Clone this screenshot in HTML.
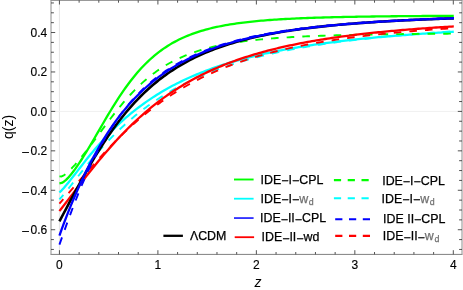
<!DOCTYPE html>
<html><head><meta charset="utf-8"><title>q(z)</title>
<style>
html,body{margin:0;padding:0;background:#fff;}
body{width:463px;height:290px;position:relative;overflow:hidden;font-family:"Liberation Sans",sans-serif;}
.t{position:absolute;-webkit-text-stroke:0.15px currentColor;font-size:12px;line-height:14px;height:14px;white-space:nowrap;color:#000;}
.r{text-align:right;}
.l{font-size:12.4px;-webkit-text-stroke:0.25px currentColor;}
.a{-webkit-text-stroke:0;}
.g{color:#707070;}
.t i{font-style:normal;position:relative;top:1.4px;}
.t b{font-weight:normal;position:relative;top:1px;left:-1.8px;}
sub{font-size:8.8px;vertical-align:baseline;position:relative;top:2.1px;line-height:0;margin-left:0.6px;}
#w{position:absolute;left:0;top:0;width:463px;height:290px;will-change:transform;}
</style></head><body><div id="w">
<svg width="463" height="290" viewBox="0 0 463 290" style="position:absolute;left:0;top:0">
<line x1="59.43" y1="0.3" x2="59.43" y2="254.4" stroke="#e6e6e6" stroke-width="1"/>
<line x1="51.0" y1="111.4" x2="462.0" y2="111.4" stroke="#f0f0f0" stroke-width="1"/>
<clipPath id="c"><rect x="51.0" y="0.3" width="411.0" height="254.1"/></clipPath>
<g clip-path="url(#c)" fill="none" stroke-linejoin="round">
<path d="M59.43 192.52 L61.65 190.33 L63.86 187.92 L66.08 185.35 L68.29 182.67 L70.51 179.90 L72.72 177.08 L74.94 174.23 L77.15 171.37 L79.37 168.51 L81.59 165.67 L83.80 162.85 L86.02 160.06 L88.23 157.30 L90.45 154.59 L92.66 151.92 L94.88 149.29 L97.09 146.72 L99.31 144.19 L101.53 141.71 L103.74 139.28 L105.96 136.90 L108.17 134.58 L110.39 132.30 L112.60 130.07 L114.82 127.90 L117.03 125.77 L119.25 123.69 L121.47 121.65 L123.68 119.66 L125.90 117.72 L128.11 115.82 L130.33 113.97 L132.54 112.16 L134.76 110.39 L136.98 108.66 L139.19 106.97 L141.41 105.32 L143.62 103.71 L145.84 102.14 L148.05 100.60 L150.27 99.10 L152.48 97.63 L154.70 96.20 L156.92 94.80 L159.13 93.43 L161.35 92.10 L163.56 90.79 L165.78 89.52 L167.99 88.27 L170.21 87.05 L172.42 85.86 L174.64 84.70 L176.86 83.56 L179.07 82.45 L181.29 81.36 L183.50 80.30 L185.72 79.26 L187.93 78.24 L190.15 77.25 L192.36 76.28 L194.58 75.33 L196.80 74.40 L199.01 73.49 L201.23 72.60 L203.44 71.73 L205.66 70.88 L207.87 70.05 L210.09 69.23 L212.30 68.43 L214.52 67.65 L216.74 66.89 L218.95 66.14 L221.17 65.40 L223.38 64.69 L225.60 63.98 L227.81 63.29 L230.03 62.62 L232.24 61.96 L234.46 61.31 L236.68 60.68 L238.89 60.06 L241.11 59.45 L243.32 58.85 L245.54 58.27 L247.75 57.69 L249.97 57.13 L252.19 56.58 L254.40 56.04 L256.62 55.51 L258.83 54.99 L261.05 54.48 L263.26 53.98 L265.48 53.49 L267.69 53.01 L269.91 52.54 L272.13 52.07 L274.34 51.62 L276.56 51.17 L278.77 50.74 L280.99 50.31 L283.20 49.89 L285.42 49.47 L287.63 49.07 L289.85 48.67 L292.07 48.27 L294.28 47.89 L296.50 47.51 L298.71 47.14 L300.93 46.78 L303.14 46.42 L305.36 46.07 L307.57 45.72 L309.79 45.38 L312.01 45.05 L314.22 44.72 L316.44 44.40 L318.65 44.08 L320.87 43.77 L323.08 43.46 L325.30 43.16 L327.51 42.86 L329.73 42.57 L331.95 42.28 L334.16 42.00 L336.38 41.73 L338.59 41.45 L340.81 41.18 L343.02 40.92 L345.24 40.66 L347.45 40.41 L349.67 40.15 L351.89 39.91 L354.10 39.66 L356.32 39.42 L358.53 39.19 L360.75 38.96 L362.96 38.73 L365.18 38.50 L367.39 38.28 L369.61 38.06 L371.83 37.85 L374.04 37.64 L376.26 37.43 L378.47 37.22 L380.69 37.02 L382.90 36.82 L385.12 36.63 L387.34 36.43 L389.55 36.24 L391.77 36.06 L393.98 35.87 L396.20 35.69 L398.41 35.51 L400.63 35.33 L402.84 35.16 L405.06 34.99 L407.28 34.82 L409.49 34.65 L411.71 34.49 L413.92 34.33 L416.14 34.17 L418.35 34.01 L420.57 33.85 L422.78 33.70 L425.00 33.55 L427.22 33.40 L429.43 33.25 L431.65 33.11 L433.86 32.97 L436.08 32.82 L438.29 32.69 L440.51 32.55 L442.72 32.41 L444.94 32.28 L447.16 32.15 L449.37 32.02 L451.59 31.89 L453.80 31.76" stroke="#00ffff" stroke-width="2.3"/>
<path d="M59.43 199.36 L61.65 196.88 L63.86 194.28 L66.08 191.58 L68.29 188.83 L70.51 186.03 L72.72 183.21 L74.94 180.37 L77.15 177.54 L79.37 174.72 L81.59 171.91 L83.80 169.13 L86.02 166.37 L88.23 163.65 L90.45 160.96 L92.66 158.31 L94.88 155.70 L97.09 153.13 L99.31 150.60 L101.53 148.12 L103.74 145.68 L105.96 143.28 L108.17 140.93 L110.39 138.62 L112.60 136.36 L114.82 134.14 L117.03 131.97 L119.25 129.83 L121.47 127.75 L123.68 125.70 L125.90 123.70 L128.11 121.73 L130.33 119.81 L132.54 117.93 L134.76 116.09 L136.98 114.29 L139.19 112.52 L141.41 110.80 L143.62 109.11 L145.84 107.45 L148.05 105.83 L150.27 104.25 L152.48 102.70 L154.70 101.19 L156.92 99.70 L159.13 98.25 L161.35 96.83 L163.56 95.45 L165.78 94.09 L167.99 92.76 L170.21 91.46 L172.42 90.18 L174.64 88.94 L176.86 87.72 L179.07 86.53 L181.29 85.36 L183.50 84.22 L185.72 83.10 L187.93 82.01 L190.15 80.94 L192.36 79.89 L194.58 78.86 L196.80 77.86 L199.01 76.88 L201.23 75.91 L203.44 74.97 L205.66 74.05 L207.87 73.15 L210.09 72.26 L212.30 71.40 L214.52 70.55 L216.74 69.72 L218.95 68.90 L221.17 68.10 L223.38 67.32 L225.60 66.56 L227.81 65.81 L230.03 65.07 L232.24 64.35 L234.46 63.65 L236.68 62.96 L238.89 62.28 L241.11 61.61 L243.32 60.96 L245.54 60.32 L247.75 59.70 L249.97 59.08 L252.19 58.48 L254.40 57.89 L256.62 57.31 L258.83 56.74 L261.05 56.19 L263.26 55.64 L265.48 55.10 L267.69 54.58 L269.91 54.06 L272.13 53.55 L274.34 53.06 L276.56 52.57 L278.77 52.09 L280.99 51.62 L283.20 51.16 L285.42 50.70 L287.63 50.26 L289.85 49.82 L292.07 49.39 L294.28 48.97 L296.50 48.56 L298.71 48.15 L300.93 47.75 L303.14 47.36 L305.36 46.97 L307.57 46.59 L309.79 46.22 L312.01 45.85 L314.22 45.49 L316.44 45.14 L318.65 44.79 L320.87 44.45 L323.08 44.12 L325.30 43.79 L327.51 43.46 L329.73 43.14 L331.95 42.83 L334.16 42.52 L336.38 42.22 L338.59 41.92 L340.81 41.62 L343.02 41.33 L345.24 41.05 L347.45 40.77 L349.67 40.49 L351.89 40.22 L354.10 39.96 L356.32 39.70 L358.53 39.44 L360.75 39.18 L362.96 38.93 L365.18 38.69 L367.39 38.44 L369.61 38.21 L371.83 37.97 L374.04 37.74 L376.26 37.51 L378.47 37.29 L380.69 37.07 L382.90 36.85 L385.12 36.64 L387.34 36.42 L389.55 36.22 L391.77 36.01 L393.98 35.81 L396.20 35.61 L398.41 35.42 L400.63 35.22 L402.84 35.03 L405.06 34.85 L407.28 34.66 L409.49 34.48 L411.71 34.30 L413.92 34.12 L416.14 33.95 L418.35 33.78 L420.57 33.61 L422.78 33.44 L425.00 33.27 L427.22 33.11 L429.43 32.95 L431.65 32.79 L433.86 32.64 L436.08 32.48 L438.29 32.33 L440.51 32.18 L442.72 32.04 L444.94 31.89 L447.16 31.75 L449.37 31.61 L451.59 31.47 L453.80 31.33" stroke="#00ffff" stroke-width="1.9" stroke-dasharray="7.6 8.06" stroke-dashoffset="1.6"/>
<path d="M59.43 183.30 L61.65 182.95 L63.86 181.72 L66.08 179.89 L68.29 177.65 L70.51 175.09 L72.72 172.30 L74.94 169.32 L77.15 166.17 L79.37 162.89 L81.59 159.50 L83.80 156.00 L86.02 152.41 L88.23 148.75 L90.45 145.04 L92.66 141.27 L94.88 137.47 L97.09 133.66 L99.31 129.83 L101.53 126.01 L103.74 122.21 L105.96 118.44 L108.17 114.71 L110.39 111.03 L112.60 107.40 L114.82 103.84 L117.03 100.36 L119.25 96.96 L121.47 93.64 L123.68 90.41 L125.90 87.27 L128.11 84.23 L130.33 81.29 L132.54 78.45 L134.76 75.71 L136.98 73.06 L139.19 70.52 L141.41 68.08 L143.62 65.74 L145.84 63.49 L148.05 61.33 L150.27 59.27 L152.48 57.30 L154.70 55.41 L156.92 53.61 L159.13 51.88 L161.35 50.24 L163.56 48.67 L165.78 47.18 L167.99 45.75 L170.21 44.39 L172.42 43.10 L174.64 41.87 L176.86 40.69 L179.07 39.57 L181.29 38.51 L183.50 37.50 L185.72 36.53 L187.93 35.61 L190.15 34.73 L192.36 33.90 L194.58 33.11 L196.80 32.35 L199.01 31.63 L201.23 30.94 L203.44 30.29 L205.66 29.67 L207.87 29.08 L210.09 28.51 L212.30 27.97 L214.52 27.46 L216.74 26.97 L218.95 26.50 L221.17 26.06 L223.38 25.63 L225.60 25.23 L227.81 24.84 L230.03 24.47 L232.24 24.12 L234.46 23.78 L236.68 23.46 L238.89 23.15 L241.11 22.85 L243.32 22.57 L245.54 22.30 L247.75 22.05 L249.97 21.80 L252.19 21.57 L254.40 21.34 L256.62 21.12 L258.83 20.92 L261.05 20.72 L263.26 20.53 L265.48 20.35 L267.69 20.17 L269.91 20.01 L272.13 19.85 L274.34 19.69 L276.56 19.55 L278.77 19.40 L280.99 19.27 L283.20 19.14 L285.42 19.01 L287.63 18.89 L289.85 18.78 L292.07 18.67 L294.28 18.56 L296.50 18.46 L298.71 18.36 L300.93 18.26 L303.14 18.17 L305.36 18.08 L307.57 18.00 L309.79 17.92 L312.01 17.84 L314.22 17.76 L316.44 17.69 L318.65 17.62 L320.87 17.55 L323.08 17.49 L325.30 17.43 L327.51 17.37 L329.73 17.31 L331.95 17.25 L334.16 17.20 L336.38 17.14 L338.59 17.09 L340.81 17.04 L343.02 17.00 L345.24 16.95 L347.45 16.91 L349.67 16.86 L351.89 16.82 L354.10 16.78 L356.32 16.75 L358.53 16.71 L360.75 16.67 L362.96 16.64 L365.18 16.60 L367.39 16.57 L369.61 16.54 L371.83 16.51 L374.04 16.48 L376.26 16.45 L378.47 16.42 L380.69 16.40 L382.90 16.37 L385.12 16.35 L387.34 16.32 L389.55 16.30 L391.77 16.27 L393.98 16.25 L396.20 16.23 L398.41 16.21 L400.63 16.19 L402.84 16.17 L405.06 16.15 L407.28 16.13 L409.49 16.11 L411.71 16.10 L413.92 16.08 L416.14 16.06 L418.35 16.05 L420.57 16.03 L422.78 16.02 L425.00 16.00 L427.22 15.99 L429.43 15.98 L431.65 15.96 L433.86 15.95 L436.08 15.94 L438.29 15.92 L440.51 15.91 L442.72 15.90 L444.94 15.89 L447.16 15.88 L449.37 15.87 L451.59 15.86 L453.80 15.85" stroke="#00ff00" stroke-width="2.3"/>
<path d="M59.43 176.41 L61.65 176.44 L63.86 175.36 L66.08 173.71 L68.29 171.73 L70.51 169.54 L72.72 167.21 L74.94 164.77 L77.15 162.23 L79.37 159.61 L81.59 156.91 L83.80 154.14 L86.02 151.31 L88.23 148.44 L90.45 145.52 L92.66 142.57 L94.88 139.60 L97.09 136.61 L99.31 133.61 L101.53 130.61 L103.74 127.62 L105.96 124.65 L108.17 121.70 L110.39 118.78 L112.60 115.90 L114.82 113.06 L117.03 110.26 L119.25 107.52 L121.47 104.84 L123.68 102.22 L125.90 99.66 L128.11 97.16 L130.33 94.74 L132.54 92.38 L134.76 90.09 L136.98 87.88 L139.19 85.73 L141.41 83.66 L143.62 81.66 L145.84 79.72 L148.05 77.86 L150.27 76.07 L152.48 74.34 L154.70 72.68 L156.92 71.09 L159.13 69.55 L161.35 68.08 L163.56 66.67 L165.78 65.31 L167.99 64.02 L170.21 62.77 L172.42 61.58 L174.64 60.43 L176.86 59.34 L179.07 58.29 L181.29 57.29 L183.50 56.32 L185.72 55.40 L187.93 54.52 L190.15 53.68 L192.36 52.87 L194.58 52.10 L196.80 51.36 L199.01 50.66 L201.23 49.98 L203.44 49.33 L205.66 48.71 L207.87 48.12 L210.09 47.55 L212.30 47.00 L214.52 46.48 L216.74 45.98 L218.95 45.51 L221.17 45.05 L223.38 44.61 L225.60 44.19 L227.81 43.79 L230.03 43.40 L232.24 43.03 L234.46 42.67 L236.68 42.33 L238.89 42.01 L241.11 41.69 L243.32 41.39 L245.54 41.10 L247.75 40.83 L249.97 40.56 L252.19 40.31 L254.40 40.06 L256.62 39.82 L258.83 39.60 L261.05 39.38 L263.26 39.17 L265.48 38.97 L267.69 38.78 L269.91 38.59 L272.13 38.41 L274.34 38.24 L276.56 38.07 L278.77 37.91 L280.99 37.76 L283.20 37.61 L285.42 37.47 L287.63 37.33 L289.85 37.20 L292.07 37.07 L294.28 36.95 L296.50 36.83 L298.71 36.72 L300.93 36.61 L303.14 36.50 L305.36 36.40 L307.57 36.30 L309.79 36.20 L312.01 36.11 L314.22 36.02 L316.44 35.93 L318.65 35.85 L320.87 35.77 L323.08 35.69 L325.30 35.62 L327.51 35.55 L329.73 35.48 L331.95 35.41 L334.16 35.34 L336.38 35.28 L338.59 35.22 L340.81 35.16 L343.02 35.10 L345.24 35.04 L347.45 34.99 L349.67 34.94 L351.89 34.89 L354.10 34.84 L356.32 34.79 L358.53 34.74 L360.75 34.70 L362.96 34.66 L365.18 34.61 L367.39 34.57 L369.61 34.53 L371.83 34.50 L374.04 34.46 L376.26 34.42 L378.47 34.39 L380.69 34.35 L382.90 34.32 L385.12 34.29 L387.34 34.26 L389.55 34.23 L391.77 34.20 L393.98 34.17 L396.20 34.14 L398.41 34.12 L400.63 34.09 L402.84 34.06 L405.06 34.04 L407.28 34.02 L409.49 33.99 L411.71 33.97 L413.92 33.95 L416.14 33.93 L418.35 33.91 L420.57 33.89 L422.78 33.87 L425.00 33.85 L427.22 33.83 L429.43 33.81 L431.65 33.79 L433.86 33.77 L436.08 33.76 L438.29 33.74 L440.51 33.73 L442.72 33.71 L444.94 33.69 L447.16 33.68 L449.37 33.67 L451.59 33.65 L453.80 33.64" stroke="#00ff00" stroke-width="1.9" stroke-dasharray="7.6 8.06" stroke-dashoffset="1.0"/>
<path d="M59.43 211.13 L61.65 208.27 L63.86 205.40 L66.08 202.52 L68.29 199.63 L70.51 196.73 L72.72 193.84 L74.94 190.94 L77.15 188.06 L79.37 185.18 L81.59 182.31 L83.80 179.46 L86.02 176.62 L88.23 173.81 L90.45 171.01 L92.66 168.24 L94.88 165.50 L97.09 162.78 L99.31 160.09 L101.53 157.43 L103.74 154.80 L105.96 152.21 L108.17 149.65 L110.39 147.13 L112.60 144.64 L114.82 142.19 L117.03 139.77 L119.25 137.40 L121.47 135.06 L123.68 132.76 L125.90 130.50 L128.11 128.28 L130.33 126.09 L132.54 123.95 L134.76 121.85 L136.98 119.78 L139.19 117.75 L141.41 115.77 L143.62 113.82 L145.84 111.91 L148.05 110.03 L150.27 108.20 L152.48 106.40 L154.70 104.63 L156.92 102.91 L159.13 101.22 L161.35 99.56 L163.56 97.94 L165.78 96.35 L167.99 94.80 L170.21 93.28 L172.42 91.79 L174.64 90.33 L176.86 88.91 L179.07 87.51 L181.29 86.15 L183.50 84.81 L185.72 83.50 L187.93 82.23 L190.15 80.98 L192.36 79.75 L194.58 78.56 L196.80 77.39 L199.01 76.24 L201.23 75.12 L203.44 74.03 L205.66 72.95 L207.87 71.91 L210.09 70.88 L212.30 69.88 L214.52 68.90 L216.74 67.94 L218.95 67.00 L221.17 66.08 L223.38 65.18 L225.60 64.30 L227.81 63.44 L230.03 62.60 L232.24 61.77 L234.46 60.97 L236.68 60.18 L238.89 59.41 L241.11 58.65 L243.32 57.91 L245.54 57.19 L247.75 56.48 L249.97 55.78 L252.19 55.10 L254.40 54.44 L256.62 53.79 L258.83 53.15 L261.05 52.53 L263.26 51.92 L265.48 51.32 L267.69 50.73 L269.91 50.16 L272.13 49.59 L274.34 49.04 L276.56 48.50 L278.77 47.98 L280.99 47.46 L283.20 46.95 L285.42 46.45 L287.63 45.96 L289.85 45.49 L292.07 45.02 L294.28 44.56 L296.50 44.11 L298.71 43.67 L300.93 43.23 L303.14 42.81 L305.36 42.39 L307.57 41.99 L309.79 41.59 L312.01 41.19 L314.22 40.81 L316.44 40.43 L318.65 40.06 L320.87 39.70 L323.08 39.34 L325.30 38.99 L327.51 38.65 L329.73 38.31 L331.95 37.98 L334.16 37.66 L336.38 37.34 L338.59 37.03 L340.81 36.72 L343.02 36.42 L345.24 36.12 L347.45 35.83 L349.67 35.55 L351.89 35.27 L354.10 34.99 L356.32 34.72 L358.53 34.45 L360.75 34.19 L362.96 33.94 L365.18 33.69 L367.39 33.44 L369.61 33.19 L371.83 32.96 L374.04 32.72 L376.26 32.49 L378.47 32.26 L380.69 32.04 L382.90 31.82 L385.12 31.61 L387.34 31.39 L389.55 31.19 L391.77 30.98 L393.98 30.78 L396.20 30.58 L398.41 30.39 L400.63 30.20 L402.84 30.01 L405.06 29.82 L407.28 29.64 L409.49 29.46 L411.71 29.28 L413.92 29.11 L416.14 28.94 L418.35 28.77 L420.57 28.60 L422.78 28.44 L425.00 28.28 L427.22 28.12 L429.43 27.97 L431.65 27.82 L433.86 27.67 L436.08 27.52 L438.29 27.37 L440.51 27.23 L442.72 27.09 L444.94 26.95 L447.16 26.81 L449.37 26.67 L451.59 26.54 L453.80 26.41" stroke="#ff0000" stroke-width="2.3"/>
<path d="M59.43 203.53 L61.65 201.03 L63.86 198.52 L66.08 195.99 L68.29 193.45 L70.51 190.90 L72.72 188.35 L74.94 185.79 L77.15 183.24 L79.37 180.68 L81.59 178.13 L83.80 175.59 L86.02 173.06 L88.23 170.54 L90.45 168.03 L92.66 165.54 L94.88 163.07 L97.09 160.61 L99.31 158.18 L101.53 155.77 L103.74 153.38 L105.96 151.01 L108.17 148.68 L110.39 146.37 L112.60 144.08 L114.82 141.83 L117.03 139.60 L119.25 137.41 L121.47 135.25 L123.68 133.11 L125.90 131.01 L128.11 128.94 L130.33 126.90 L132.54 124.90 L134.76 122.93 L136.98 120.99 L139.19 119.08 L141.41 117.20 L143.62 115.36 L145.84 113.55 L148.05 111.77 L150.27 110.03 L152.48 108.31 L154.70 106.63 L156.92 104.98 L159.13 103.36 L161.35 101.77 L163.56 100.21 L165.78 98.69 L167.99 97.19 L170.21 95.72 L172.42 94.28 L174.64 92.86 L176.86 91.48 L179.07 90.12 L181.29 88.79 L183.50 87.49 L185.72 86.21 L187.93 84.96 L190.15 83.74 L192.36 82.54 L194.58 81.36 L196.80 80.21 L199.01 79.08 L201.23 77.97 L203.44 76.89 L205.66 75.83 L207.87 74.79 L210.09 73.77 L212.30 72.77 L214.52 71.80 L216.74 70.84 L218.95 69.90 L221.17 68.99 L223.38 68.09 L225.60 67.21 L227.81 66.34 L230.03 65.50 L232.24 64.67 L234.46 63.86 L236.68 63.07 L238.89 62.29 L241.11 61.53 L243.32 60.78 L245.54 60.05 L247.75 59.33 L249.97 58.63 L252.19 57.94 L254.40 57.26 L256.62 56.60 L258.83 55.95 L261.05 55.32 L263.26 54.70 L265.48 54.08 L267.69 53.49 L269.91 52.90 L272.13 52.32 L274.34 51.76 L276.56 51.21 L278.77 50.67 L280.99 50.13 L283.20 49.61 L285.42 49.10 L287.63 48.60 L289.85 48.11 L292.07 47.63 L294.28 47.15 L296.50 46.69 L298.71 46.23 L300.93 45.79 L303.14 45.35 L305.36 44.92 L307.57 44.50 L309.79 44.08 L312.01 43.68 L314.22 43.28 L316.44 42.88 L318.65 42.50 L320.87 42.12 L323.08 41.75 L325.30 41.39 L327.51 41.03 L329.73 40.68 L331.95 40.33 L334.16 40.00 L336.38 39.66 L338.59 39.34 L340.81 39.02 L343.02 38.70 L345.24 38.39 L347.45 38.09 L349.67 37.79 L351.89 37.50 L354.10 37.21 L356.32 36.92 L358.53 36.65 L360.75 36.37 L362.96 36.10 L365.18 35.84 L367.39 35.58 L369.61 35.32 L371.83 35.07 L374.04 34.82 L376.26 34.58 L378.47 34.34 L380.69 34.11 L382.90 33.88 L385.12 33.65 L387.34 33.42 L389.55 33.20 L391.77 32.99 L393.98 32.77 L396.20 32.57 L398.41 32.36 L400.63 32.16 L402.84 31.96 L405.06 31.76 L407.28 31.57 L409.49 31.38 L411.71 31.19 L413.92 31.01 L416.14 30.82 L418.35 30.65 L420.57 30.47 L422.78 30.30 L425.00 30.13 L427.22 29.96 L429.43 29.79 L431.65 29.63 L433.86 29.47 L436.08 29.31 L438.29 29.16 L440.51 29.00 L442.72 28.85 L444.94 28.70 L447.16 28.56 L449.37 28.41 L451.59 28.27 L453.80 28.13" stroke="#ff0000" stroke-width="1.9" stroke-dasharray="7.6 8.06" stroke-dashoffset="1.76"/>
<path d="M59.43 221.34 L61.65 217.18 L63.86 213.00 L66.08 208.82 L68.29 204.64 L70.51 200.47 L72.72 196.32 L74.94 192.19 L77.15 188.09 L79.37 184.02 L81.59 179.99 L83.80 176.01 L86.02 172.08 L88.23 168.20 L90.45 164.38 L92.66 160.61 L94.88 156.91 L97.09 153.28 L99.31 149.71 L101.53 146.21 L103.74 142.78 L105.96 139.43 L108.17 136.14 L110.39 132.93 L112.60 129.80 L114.82 126.73 L117.03 123.75 L119.25 120.83 L121.47 117.99 L123.68 115.22 L125.90 112.52 L128.11 109.89 L130.33 107.33 L132.54 104.84 L134.76 102.42 L136.98 100.06 L139.19 97.77 L141.41 95.54 L143.62 93.38 L145.84 91.28 L148.05 89.23 L150.27 87.25 L152.48 85.32 L154.70 83.45 L156.92 81.63 L159.13 79.86 L161.35 78.15 L163.56 76.49 L165.78 74.87 L167.99 73.30 L170.21 71.78 L172.42 70.30 L174.64 68.87 L176.86 67.48 L179.07 66.12 L181.29 64.81 L183.50 63.54 L185.72 62.30 L187.93 61.10 L190.15 59.93 L192.36 58.80 L194.58 57.70 L196.80 56.63 L199.01 55.60 L201.23 54.59 L203.44 53.61 L205.66 52.66 L207.87 51.74 L210.09 50.84 L212.30 49.97 L214.52 49.12 L216.74 48.30 L218.95 47.50 L221.17 46.72 L223.38 45.96 L225.60 45.23 L227.81 44.51 L230.03 43.82 L232.24 43.14 L234.46 42.48 L236.68 41.84 L238.89 41.22 L241.11 40.61 L243.32 40.02 L245.54 39.45 L247.75 38.89 L249.97 38.35 L252.19 37.82 L254.40 37.30 L256.62 36.80 L258.83 36.31 L261.05 35.83 L263.26 35.37 L265.48 34.92 L267.69 34.47 L269.91 34.04 L272.13 33.63 L274.34 33.22 L276.56 32.82 L278.77 32.43 L280.99 32.05 L283.20 31.68 L285.42 31.32 L287.63 30.97 L289.85 30.63 L292.07 30.29 L294.28 29.97 L296.50 29.65 L298.71 29.34 L300.93 29.03 L303.14 28.74 L305.36 28.45 L307.57 28.17 L309.79 27.89 L312.01 27.62 L314.22 27.36 L316.44 27.10 L318.65 26.85 L320.87 26.60 L323.08 26.36 L325.30 26.13 L327.51 25.90 L329.73 25.67 L331.95 25.45 L334.16 25.24 L336.38 25.03 L338.59 24.82 L340.81 24.62 L343.02 24.43 L345.24 24.23 L347.45 24.05 L349.67 23.86 L351.89 23.68 L354.10 23.51 L356.32 23.33 L358.53 23.16 L360.75 23.00 L362.96 22.84 L365.18 22.68 L367.39 22.52 L369.61 22.37 L371.83 22.22 L374.04 22.08 L376.26 21.93 L378.47 21.79 L380.69 21.65 L382.90 21.52 L385.12 21.39 L387.34 21.26 L389.55 21.13 L391.77 21.01 L393.98 20.89 L396.20 20.77 L398.41 20.65 L400.63 20.53 L402.84 20.42 L405.06 20.31 L407.28 20.20 L409.49 20.10 L411.71 19.99 L413.92 19.89 L416.14 19.79 L418.35 19.69 L420.57 19.59 L422.78 19.50 L425.00 19.40 L427.22 19.31 L429.43 19.22 L431.65 19.13 L433.86 19.05 L436.08 18.96 L438.29 18.88 L440.51 18.80 L442.72 18.72 L444.94 18.64 L447.16 18.56 L449.37 18.48 L451.59 18.41 L453.80 18.33" stroke="#000000" stroke-width="2.6"/>
<path d="M59.43 235.60 L61.65 229.43 L63.86 223.44 L66.08 217.61 L68.29 211.94 L70.51 206.42 L72.72 201.04 L74.94 195.80 L77.15 190.69 L79.37 185.72 L81.59 180.87 L83.80 176.16 L86.02 171.57 L88.23 167.10 L90.45 162.76 L92.66 158.53 L94.88 154.43 L97.09 150.44 L99.31 146.56 L101.53 142.80 L103.74 139.15 L105.96 135.60 L108.17 132.16 L110.39 128.83 L112.60 125.59 L114.82 122.46 L117.03 119.42 L119.25 116.47 L121.47 113.62 L123.68 110.85 L125.90 108.17 L128.11 105.57 L130.33 103.06 L132.54 100.62 L134.76 98.26 L136.98 95.97 L139.19 93.75 L141.41 91.61 L143.62 89.53 L145.84 87.51 L148.05 85.56 L150.27 83.67 L152.48 81.84 L154.70 80.07 L156.92 78.35 L159.13 76.68 L161.35 75.07 L163.56 73.50 L165.78 71.98 L167.99 70.51 L170.21 69.09 L172.42 67.70 L174.64 66.36 L176.86 65.06 L179.07 63.80 L181.29 62.57 L183.50 61.39 L185.72 60.23 L187.93 59.12 L190.15 58.03 L192.36 56.98 L194.58 55.95 L196.80 54.96 L199.01 53.99 L201.23 53.06 L203.44 52.15 L205.66 51.26 L207.87 50.40 L210.09 49.57 L212.30 48.75 L214.52 47.96 L216.74 47.19 L218.95 46.45 L221.17 45.72 L223.38 45.02 L225.60 44.33 L227.81 43.66 L230.03 43.01 L232.24 42.37 L234.46 41.76 L236.68 41.16 L238.89 40.57 L241.11 40.00 L243.32 39.45 L245.54 38.91 L247.75 38.38 L249.97 37.87 L252.19 37.37 L254.40 36.88 L256.62 36.40 L258.83 35.94 L261.05 35.49 L263.26 35.05 L265.48 34.62 L267.69 34.20 L269.91 33.79 L272.13 33.39 L274.34 33.00 L276.56 32.62 L278.77 32.25 L280.99 31.89 L283.20 31.53 L285.42 31.19 L287.63 30.85 L289.85 30.52 L292.07 30.20 L294.28 29.88 L296.50 29.57 L298.71 29.27 L300.93 28.98 L303.14 28.69 L305.36 28.41 L307.57 28.13 L309.79 27.87 L312.01 27.60 L314.22 27.35 L316.44 27.09 L318.65 26.85 L320.87 26.61 L323.08 26.37 L325.30 26.14 L327.51 25.92 L329.73 25.69 L331.95 25.48 L334.16 25.27 L336.38 25.06 L338.59 24.86 L340.81 24.66 L343.02 24.46 L345.24 24.27 L347.45 24.08 L349.67 23.90 L351.89 23.72 L354.10 23.55 L356.32 23.37 L358.53 23.20 L360.75 23.04 L362.96 22.88 L365.18 22.72 L367.39 22.56 L369.61 22.41 L371.83 22.26 L374.04 22.11 L376.26 21.96 L378.47 21.82 L380.69 21.68 L382.90 21.55 L385.12 21.41 L387.34 21.28 L389.55 21.15 L391.77 21.02 L393.98 20.90 L396.20 20.78 L398.41 20.66 L400.63 20.54 L402.84 20.42 L405.06 20.31 L407.28 20.20 L409.49 20.09 L411.71 19.98 L413.92 19.88 L416.14 19.77 L418.35 19.67 L420.57 19.57 L422.78 19.47 L425.00 19.37 L427.22 19.28 L429.43 19.18 L431.65 19.09 L433.86 19.00 L436.08 18.91 L438.29 18.83 L440.51 18.74 L442.72 18.66 L444.94 18.57 L447.16 18.49 L449.37 18.41 L451.59 18.33 L453.80 18.25" stroke="#0000ff" stroke-width="2.3"/>
<path d="M59.43 244.58 L61.65 238.33 L63.86 232.10 L66.08 225.93 L68.29 219.83 L70.51 213.84 L72.72 207.96 L74.94 202.20 L77.15 196.57 L79.37 191.08 L81.59 185.74 L83.80 180.54 L86.02 175.48 L88.23 170.58 L90.45 165.82 L92.66 161.21 L94.88 156.74 L97.09 152.41 L99.31 148.23 L101.53 144.18 L103.74 140.26 L105.96 136.47 L108.17 132.81 L110.39 129.28 L112.60 125.86 L114.82 122.56 L117.03 119.37 L119.25 116.28 L121.47 113.31 L123.68 110.43 L125.90 107.65 L128.11 104.97 L130.33 102.37 L132.54 99.87 L134.76 97.45 L136.98 95.11 L139.19 92.85 L141.41 90.66 L143.62 88.55 L145.84 86.51 L148.05 84.53 L150.27 82.62 L152.48 80.78 L154.70 78.99 L156.92 77.26 L159.13 75.59 L161.35 73.98 L163.56 72.41 L165.78 70.89 L167.99 69.43 L170.21 68.01 L172.42 66.63 L174.64 65.30 L176.86 64.00 L179.07 62.75 L181.29 61.54 L183.50 60.36 L185.72 59.22 L187.93 58.12 L190.15 57.05 L192.36 56.00 L194.58 55.00 L196.80 54.02 L199.01 53.06 L201.23 52.14 L203.44 51.25 L205.66 50.38 L207.87 49.53 L210.09 48.71 L212.30 47.91 L214.52 47.13 L216.74 46.38 L218.95 45.65 L221.17 44.94 L223.38 44.24 L225.60 43.57 L227.81 42.91 L230.03 42.27 L232.24 41.65 L234.46 41.05 L236.68 40.46 L238.89 39.89 L241.11 39.33 L243.32 38.79 L245.54 38.26 L247.75 37.74 L249.97 37.24 L252.19 36.75 L254.40 36.27 L256.62 35.81 L258.83 35.35 L261.05 34.91 L263.26 34.48 L265.48 34.06 L267.69 33.65 L269.91 33.25 L272.13 32.86 L274.34 32.47 L276.56 32.10 L278.77 31.74 L280.99 31.38 L283.20 31.04 L285.42 30.70 L287.63 30.37 L289.85 30.04 L292.07 29.73 L294.28 29.42 L296.50 29.12 L298.71 28.82 L300.93 28.53 L303.14 28.25 L305.36 27.98 L307.57 27.71 L309.79 27.44 L312.01 27.19 L314.22 26.93 L316.44 26.69 L318.65 26.44 L320.87 26.21 L323.08 25.98 L325.30 25.75 L327.51 25.53 L329.73 25.31 L331.95 25.10 L334.16 24.89 L336.38 24.69 L338.59 24.49 L340.81 24.29 L343.02 24.10 L345.24 23.91 L347.45 23.73 L349.67 23.55 L351.89 23.37 L354.10 23.20 L356.32 23.03 L358.53 22.86 L360.75 22.70 L362.96 22.54 L365.18 22.38 L367.39 22.22 L369.61 22.07 L371.83 21.92 L374.04 21.78 L376.26 21.64 L378.47 21.50 L380.69 21.36 L382.90 21.22 L385.12 21.09 L387.34 20.96 L389.55 20.83 L391.77 20.71 L393.98 20.58 L396.20 20.46 L398.41 20.34 L400.63 20.23 L402.84 20.11 L405.06 20.00 L407.28 19.89 L409.49 19.78 L411.71 19.67 L413.92 19.57 L416.14 19.46 L418.35 19.36 L420.57 19.26 L422.78 19.17 L425.00 19.07 L427.22 18.97 L429.43 18.88 L431.65 18.79 L433.86 18.70 L436.08 18.61 L438.29 18.52 L440.51 18.44 L442.72 18.35 L444.94 18.27 L447.16 18.19 L449.37 18.11 L451.59 18.03 L453.80 17.95" stroke="#0000ff" stroke-width="1.9" stroke-dasharray="7.6 8.06" stroke-dashoffset="0"/>
</g>
<path d="M50.5 0.3 H462.5 M50.5 254.4 H462.5" fill="none" stroke="#808080" stroke-width="1"/>
<path d="M51.0 0.3 V254.4 M462.0 0.3 V254.4" fill="none" stroke="#8e8e8e" stroke-width="1"/>
<path d="M59.43 254.4 v-4.2 M59.43 0.3 v4.2 M79.12 254.4 v-2.4 M79.12 0.3 v2.4 M98.82 254.4 v-2.4 M98.82 0.3 v2.4 M118.51 254.4 v-2.4 M118.51 0.3 v2.4 M138.21 254.4 v-2.4 M138.21 0.3 v2.4 M157.90 254.4 v-4.2 M157.90 0.3 v4.2 M177.59 254.4 v-2.4 M177.59 0.3 v2.4 M197.29 254.4 v-2.4 M197.29 0.3 v2.4 M216.98 254.4 v-2.4 M216.98 0.3 v2.4 M236.68 254.4 v-2.4 M236.68 0.3 v2.4 M256.37 254.4 v-4.2 M256.37 0.3 v4.2 M276.06 254.4 v-2.4 M276.06 0.3 v2.4 M295.76 254.4 v-2.4 M295.76 0.3 v2.4 M315.45 254.4 v-2.4 M315.45 0.3 v2.4 M335.15 254.4 v-2.4 M335.15 0.3 v2.4 M354.84 254.4 v-4.2 M354.84 0.3 v4.2 M374.53 254.4 v-2.4 M374.53 0.3 v2.4 M394.23 254.4 v-2.4 M394.23 0.3 v2.4 M413.92 254.4 v-2.4 M413.92 0.3 v2.4 M433.62 254.4 v-2.4 M433.62 0.3 v2.4 M453.31 254.4 v-4.2 M453.31 0.3 v4.2 M51.0 249.44 h2.9 M462.0 249.44 h-2.9 M51.0 239.58 h2.9 M462.0 239.58 h-2.9 M51.0 229.72 h4.2 M462.0 229.72 h-4.2 M51.0 219.86 h2.9 M462.0 219.86 h-2.9 M51.0 210.00 h2.9 M462.0 210.00 h-2.9 M51.0 200.14 h2.9 M462.0 200.14 h-2.9 M51.0 190.28 h4.2 M462.0 190.28 h-4.2 M51.0 180.42 h2.9 M462.0 180.42 h-2.9 M51.0 170.56 h2.9 M462.0 170.56 h-2.9 M51.0 160.70 h2.9 M462.0 160.70 h-2.9 M51.0 150.84 h4.2 M462.0 150.84 h-4.2 M51.0 140.98 h2.9 M462.0 140.98 h-2.9 M51.0 131.12 h2.9 M462.0 131.12 h-2.9 M51.0 121.26 h2.9 M462.0 121.26 h-2.9 M51.0 111.40 h4.2 M462.0 111.40 h-4.2 M51.0 101.54 h2.9 M462.0 101.54 h-2.9 M51.0 91.68 h2.9 M462.0 91.68 h-2.9 M51.0 81.82 h2.9 M462.0 81.82 h-2.9 M51.0 71.96 h4.2 M462.0 71.96 h-4.2 M51.0 62.10 h2.9 M462.0 62.10 h-2.9 M51.0 52.24 h2.9 M462.0 52.24 h-2.9 M51.0 42.38 h2.9 M462.0 42.38 h-2.9 M51.0 32.52 h4.2 M462.0 32.52 h-4.2 M51.0 22.66 h2.9 M462.0 22.66 h-2.9 M51.0 12.80 h2.9 M462.0 12.80 h-2.9 M51.0 2.94 h2.9 M462.0 2.94 h-2.9" stroke="#404040" stroke-width="0.9" fill="none"/>
<line x1="163.4" x2="182.9" y1="235.8" y2="235.8" stroke="#000" stroke-width="2.3"/>
<line x1="234.0" x2="253.6" y1="179.5" y2="179.5" stroke="#00ff00" stroke-width="1.9"/>
<line x1="234.0" x2="253.6" y1="198.7" y2="198.7" stroke="#00ffff" stroke-width="1.8"/>
<line x1="234.0" x2="253.6" y1="218.05" y2="218.05" stroke="#0000ff" stroke-width="1.5"/>
<line x1="234.7" x2="254.1" y1="237.2" y2="237.2" stroke="#ff0000" stroke-width="1.8"/>
<line x1="333.9" x2="368.7" y1="180.1" y2="180.1" stroke="#00ff00" stroke-width="2.1" stroke-dasharray="7.2 6.6"/>
<line x1="333.9" x2="368.7" y1="198.3" y2="198.3" stroke="#00ffff" stroke-width="2.1" stroke-dasharray="7.2 6.6"/>
<line x1="335.2" x2="370.0" y1="219.2" y2="219.2" stroke="#0000ff" stroke-width="2.1" stroke-dasharray="7.2 6.6"/>
<line x1="335.2" x2="370.0" y1="235.9" y2="235.9" stroke="#ff0000" stroke-width="2.1" stroke-dasharray="7.2 6.6"/>
</svg>
<div class="t r" style="left:0;width:47.3px;top:25.92px">0.4</div>
<div class="t r" style="left:0;width:47.3px;top:65.36px">0.2</div>
<div class="t r" style="left:0;width:47.3px;top:104.80px">0.0</div>
<div class="t r" style="left:0;width:47.3px;top:144.24px"><b>–</b>0.2</div>
<div class="t r" style="left:0;width:47.3px;top:183.68px"><b>–</b>0.4</div>
<div class="t r" style="left:0;width:47.3px;top:223.12px"><b>–</b>0.6</div>
<div class="t" style="left:49.43px;width:20px;text-align:center;top:257.80px">0</div>
<div class="t" style="left:147.90px;width:20px;text-align:center;top:257.80px">1</div>
<div class="t" style="left:246.37px;width:20px;text-align:center;top:257.80px">2</div>
<div class="t" style="left:344.84px;width:20px;text-align:center;top:257.80px">3</div>
<div class="t" style="left:443.31px;width:20px;text-align:center;top:257.80px">4</div>
<div class="t a" style="left:247.95px;width:20px;text-align:center;top:275.4px;font-style:italic;font-size:14px">z</div>
<div class="t a" style="left:-12.40px;width:40px;text-align:center;top:120.00px;transform:rotate(-90deg);font-size:14px">q(z)</div>
<div class="t l" style="left:189.90px;top:228.7px;">ΛCDM</div>
<div class="t l" style="left:260.60px;top:172.7px;">IDE<i>−</i>I<i>−</i>CPL</div>
<div class="t l" style="left:260.60px;top:192px;">IDE<i>−</i>I<i>−</i><span class="g">w<sub>d</sub></span></div>
<div class="t l" style="left:260.00px;top:211.2px;">IDE<i>−</i>II<i>−</i>CPL</div>
<div class="t l" style="left:261.50px;top:230.2px;">IDE<i>−</i>II<i>−</i>wd</div>
<div class="t l" style="left:382.20px;top:173.5px;">IDE<i>−</i>I<i>−</i>CPL</div>
<div class="t l" style="left:381.60px;top:191.8px;">IDE<i>−</i>I<i>−</i><span class="g">w<sub>d</sub></span></div>
<div class="t l" style="left:383.10px;top:211.9px;">IDE II<i>−</i>CPL</div>
<div class="t l" style="left:382.80px;top:229.2px;">IDE<i>−</i>II<i>−</i><span class="g">w<sub>d</sub></span></div>
</div></body></html>
